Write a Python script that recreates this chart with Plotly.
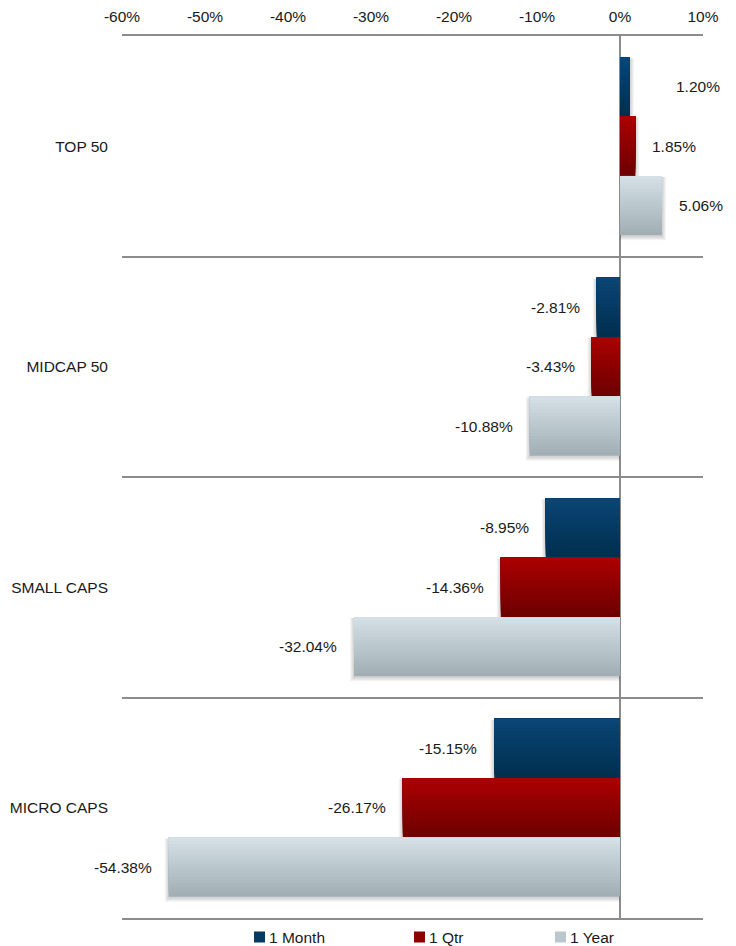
import plotly.graph_objects as go

categories = ["TOP 50", "MIDCAP 50", "SMALL CAPS", "MICRO CAPS"]
series_names = ["1 Month", "1 Qtr", "1 Year"]
month_vals = [1.20, -2.81, -8.95, -15.15]
qtr_vals = [1.85, -3.43, -14.36, -26.17]
year_vals = [5.06, -10.88, -32.04, -54.38]
x_tick_vals = [-60, -50, -40, -30, -20, -10, 0, 10]
x_tick_text = ["-60%", "-50%", "-40%", "-30%", "-20%", "-10%", "0%", "10%"]

series_values = [month_vals, qtr_vals, year_vals]
# gradient colours (top, bottom)
grad = [((10, 70, 118), (0, 46, 78)),
        ((172, 0, 0), (108, 0, 0)),
        ((213, 225, 232), (160, 173, 178))]

FONT = "Liberation Sans, Arial, sans-serif"
FS = 15.5
PAGE_OFF = 8  # default body margin of the html page
W, H = 736 - PAGE_OFF, 946 - PAGE_OFF
ML, MR, MT, MB = 122 - PAGE_OFF, 33, 36 - PAGE_OFF, 28
plot_w = W - ML - MR
plot_h = H - MT - MB
band_px = plot_h / len(categories)
px_per_pct = plot_w / 70.0

bar_w = 0.269
group_start = -1.5 * bar_w
N = 18
# extra pixel nudge for individual data labels (series index, category index)
label_nudge = {(0, 0): 29}

fig = go.Figure()

# shadows
for j, vals in enumerate(series_values):
    off = group_start + j * bar_w
    for i in range(1, 5):
        ext_x = i * 1.0 / px_per_pct
        ext_y = i * 1.0 / band_px
        xs = [v + (ext_x if v >= 0 else -ext_x) for v in vals]
        fig.add_trace(go.Bar(
            y=categories, x=xs, orientation="h",
            offset=off + 1.0 / band_px, width=bar_w + ext_y,
            marker=dict(color="rgba(0,0,0,0.045)", line=dict(width=0)),
            showlegend=False, hoverinfo="skip"))

# gradient bars
def lerp(a, b, t):
    return tuple(int(round(a[c] + (b[c] - a[c]) * t)) for c in range(3))

for j, vals in enumerate(series_values):
    off = group_start + j * bar_w
    top, bot = grad[j]
    for k in range(N):
        t = (N - k - 0.5) / N
        col = lerp(top, bot, t)
        fig.add_trace(go.Bar(
            y=categories, x=vals, orientation="h",
            offset=off, width=bar_w * (N - k) / N,
            marker=dict(color="rgb(%d,%d,%d)" % col, line=dict(width=0)),
            name=series_names[j], showlegend=False, hoverinfo="skip"))

# data labels
for j, vals in enumerate(series_values):
    center = group_start + j * bar_w + bar_w / 2
    for i, v in enumerate(vals):
        shift = 15 + label_nudge.get((j, i), 0)
        fig.add_annotation(
            x=v, y=i + center, xref="x", yref="y",
            text="%.2f%%" % v, showarrow=False,
            xanchor="left" if v >= 0 else "right",
            xshift=shift if v >= 0 else -shift,
            font=dict(family=FONT, size=FS, color="#1a1a1a"))

# custom legend (page pixel positions)
leg_x_px = [254, 414, 555]
leg_y_px = 937
for j in range(3):
    lx = leg_x_px[j] - PAGE_OFF
    x0 = (lx - ML) / plot_w
    x1 = (lx + 11 - ML) / plot_w
    yc = -(leg_y_px - PAGE_OFF - (H - MB)) / plot_h
    hh = 5.5 / plot_h
    top, bot = grad[j]
    mid = lerp(top, bot, 0.5)
    fig.add_shape(type="rect", xref="paper", yref="paper",
                  x0=x0, x1=x1, y0=yc - hh, y1=yc + hh,
                  fillcolor="rgb(%d,%d,%d)" % mid, line=dict(width=0))
    fig.add_annotation(xref="paper", yref="paper",
                       x=(lx + 13 - ML) / plot_w, y=yc,
                       xanchor="left", yanchor="middle",
                       text=series_names[j], showarrow=False,
                       font=dict(family=FONT, size=FS, color="#1a1a1a"))

fig.update_layout(
    width=W, height=H,
    margin=dict(l=ML, r=MR, t=MT, b=MB, pad=0, autoexpand=False),
    paper_bgcolor="white", plot_bgcolor="white",
    barmode="overlay", showlegend=False,
    font=dict(family=FONT, size=FS, color="#1a1a1a"),
    xaxis=dict(range=[-60, 10], side="top", tickvals=x_tick_vals,
               ticktext=x_tick_text, showgrid=False, automargin=False,
               showline=True, linecolor="#8c8c8c", linewidth=2, mirror=True,
               zeroline=True, zerolinecolor="#8c8c8c", zerolinewidth=2,
               ticks="", ticklabelstandoff=6, fixedrange=True),
    yaxis=dict(type="category", range=[3.5, -0.5], tickson="boundaries",
               showgrid=True, gridcolor="#8c8c8c", gridwidth=2,
               automargin=False,
               ticks="", showline=False, zeroline=False,
               ticklabelstandoff=13, fixedrange=True),
)

fig.write_html("out.html")
